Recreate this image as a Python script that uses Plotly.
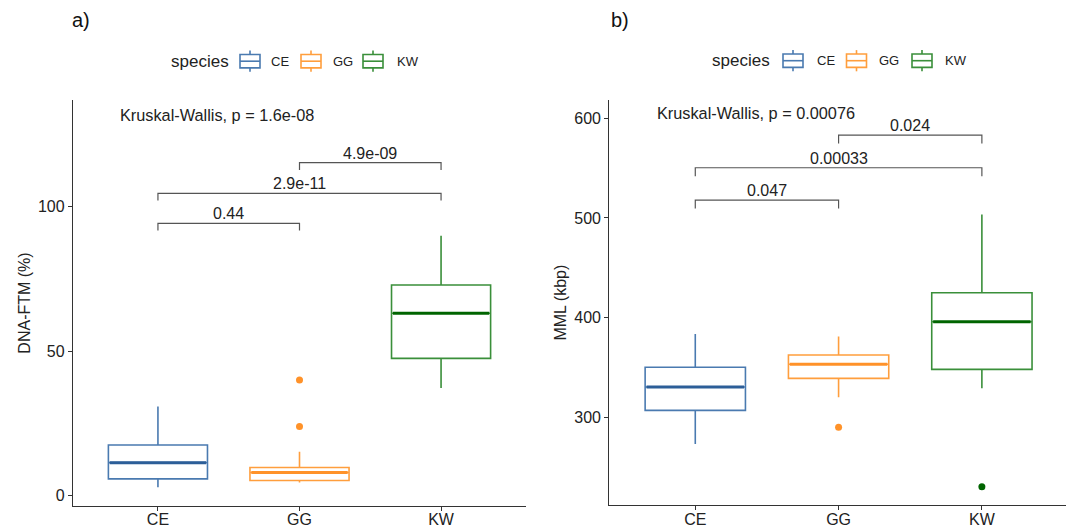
import plotly.graph_objects as go

species = ["CE", "GG", "KW"]
colors = ["#4A7AB0", "#FF9E3D", "#3A8F3A"]
median_colors = ["#2C5E98", "#FF9229", "#006400"]
outlier_colors = ["#2C5E98", "#FF9229", "#006400"]

# Panel a) DNA-FTM (%)
ftm_lower = [2.9, 4.5, 37.2]
ftm_q1 = [5.8, 5.2, 47.5]
ftm_median = [11.4, 8.0, 63.1]
ftm_q3 = [17.5, 9.7, 72.9]
ftm_upper = [30.8, 15.2, 89.9]
ftm_outliers = {"GG": [40.0, 23.9]}
ftm_pairs = [("CE", "GG"), ("CE", "KW"), ("GG", "KW")]
ftm_pvals = ["0.44", "2.9e-11", "4.9e-09"]
ftm_bracket_y = [94.2, 104.6, 115.2]
ftm_kw = "Kruskal-Wallis, p = 1.6e-08"

# Panel b) MML (kbp)
mml_lower = [273.2, 320.1, 329.1]
mml_q1 = [307.0, 339.1, 348.1]
mml_median = [330.4, 353.2, 395.9]
mml_q3 = [350.2, 362.5, 425.0]
mml_upper = [383.6, 381.2, 503.6]
mml_outliers = {"GG": [290.0], "KW": [230.4]}
mml_pairs = [("CE", "GG"), ("CE", "KW"), ("GG", "KW")]
mml_pvals = ["0.047", "0.00033", "0.024"]
mml_bracket_y = [518.0, 550.4, 583.2]
mml_kw = "Kruskal-Wallis, p = 0.00076"

W, H = 1066, 530
FONT = "Liberation Sans, Arial, sans-serif"
BOX_W = 0.7

fig = go.Figure()

panels = [
    dict(xa="x", ya="y", lower=ftm_lower, q1=ftm_q1, med=ftm_median,
         q3=ftm_q3, upper=ftm_upper, out=ftm_outliers, pairs=ftm_pairs, pvals=ftm_pvals,
         by=ftm_bracket_y, tip=2.5, kw=ftm_kw, kwy=131.7, kwx=-0.275,
         leg_title_x=170, leg_y=61.2, key_x=[240, 301, 363], txt_x=[270, 331.5, 396]),
    dict(xa="x2", ya="y2", lower=mml_lower, q1=mml_q1, med=mml_median,
         q3=mml_q3, upper=mml_upper, out=mml_outliers, pairs=mml_pairs, pvals=mml_pvals,
         by=mml_bracket_y, tip=8.4, kw=mml_kw, kwy=604.9, kwx=-0.277,
         leg_title_x=711, leg_y=60.7, key_x=[783, 846.5, 912], txt_x=[815.5, 878, 944]),
]

annotations = []
shapes = []


def px(x):
    return x / W


def py(y):
    return 1 - y / H


for p in panels:
    for i, sp in enumerate(species):
        fig.add_trace(go.Box(
            x=[i], q1=[p["q1"][i]], median=[p["med"][i]], q3=[p["q3"][i]],
            lowerfence=[p["lower"][i]], upperfence=[p["upper"][i]],
            name=sp, width=BOX_W, whiskerwidth=0, fillcolor="white",
            line=dict(color=colors[i], width=1.6), boxpoints=False,
            xaxis=p["xa"], yaxis=p["ya"], showlegend=False,
            hoverinfo="skip",
        ))
        # thicker median line (ggplot fatten)
        fig.add_trace(go.Scatter(
            x=[i - BOX_W / 2 + 0.01, i + BOX_W / 2 - 0.01], y=[p["med"][i], p["med"][i]],
            mode="lines", line=dict(color=median_colors[i], width=3),
            xaxis=p["xa"], yaxis=p["ya"], showlegend=False, hoverinfo="skip",
        ))
        if sp in p["out"]:
            vals = p["out"][sp]
            fig.add_trace(go.Scatter(
                x=[i] * len(vals), y=vals, mode="markers",
                marker=dict(color=outlier_colors[i], size=7),
                xaxis=p["xa"], yaxis=p["ya"], showlegend=False, hoverinfo="skip",
            ))
    for (a, b), pv, yv in zip(p["pairs"], p["pvals"], p["by"]):
        ia, ib = species.index(a), species.index(b)
        fig.add_trace(go.Scatter(
            x=[ia, ia, ib, ib], y=[yv - p["tip"], yv, yv, yv - p["tip"]],
            mode="lines", line=dict(color="#555555", width=1.2),
            xaxis=p["xa"], yaxis=p["ya"], showlegend=False, hoverinfo="skip",
        ))
        annotations.append(dict(
            x=(ia + ib) / 2, y=yv, xref=p["xa"], yref=p["ya"], text=pv,
            showarrow=False, yanchor="bottom", yshift=-1,
            font=dict(size=16, color="#222222", family=FONT),
        ))
    annotations.append(dict(
        x=p["kwx"], y=p["kwy"], xref=p["xa"], yref=p["ya"], text=p["kw"],
        showarrow=False, xanchor="left", yanchor="middle", xshift=-1,
        font=dict(size=16.3, color="#222222", family=FONT),
    ))

    # ggplot-style legend
    cy = p["leg_y"]
    annotations.append(dict(x=px(p["leg_title_x"]), y=py(cy), xref="paper", yref="paper",
                            text="species", showarrow=False, xanchor="left", yanchor="middle",
                            xshift=-1, font=dict(size=17, color="#222222", family=FONT)))
    for i, sp in enumerate(species):
        kx0 = p["key_x"][i]
        kx1 = kx0 + 20
        kxc = (kx0 + kx1) / 2
        lw = 1.6
        shapes.append(dict(type="rect", xref="paper", yref="paper",
                           x0=px(kx0), x1=px(kx1), y0=py(cy + 6.7), y1=py(cy - 6.7),
                           line=dict(color=colors[i], width=lw), fillcolor="white"))
        shapes.append(dict(type="line", xref="paper", yref="paper",
                           x0=px(kx0), x1=px(kx1), y0=py(cy), y1=py(cy),
                           line=dict(color=colors[i], width=lw)))
        shapes.append(dict(type="line", xref="paper", yref="paper",
                           x0=px(kxc), x1=px(kxc), y0=py(cy - 10.6), y1=py(cy - 6.7),
                           line=dict(color=colors[i], width=lw)))
        shapes.append(dict(type="line", xref="paper", yref="paper",
                           x0=px(kxc), x1=px(kxc), y0=py(cy + 6.7), y1=py(cy + 10.6),
                           line=dict(color=colors[i], width=lw)))
        annotations.append(dict(x=px(p["txt_x"][i]), y=py(cy), xref="paper", yref="paper",
                                text=sp, showarrow=False, xanchor="left", yanchor="middle",
                                xshift=-1, font=dict(size=13, color="#222222", family=FONT)))

annotations.append(dict(x=px(70), y=py(20), xref="paper", yref="paper", text="a)",
                        showarrow=False, xanchor="left", yanchor="middle",
                        font=dict(size=20, color="#111111", family=FONT)))
annotations.append(dict(x=px(609), y=py(20), xref="paper", yref="paper", text="b)",
                        showarrow=False, xanchor="left", yanchor="middle",
                        font=dict(size=20, color="#111111", family=FONT)))

axis_common = dict(showline=True, linecolor="#333333", linewidth=1.3, ticks="outside",
                   ticklen=4, tickcolor="#333333", tickwidth=1.2, showgrid=False,
                   zeroline=False, automargin=False,
                   tickfont=dict(size=16, color="#222222", family=FONT))

fig.update_layout(
    width=W, height=H, margin=dict(l=0, r=0, t=0, b=0, autoexpand=False),
    paper_bgcolor="white", plot_bgcolor="white",
    font=dict(family=FONT, color="#222222"),
    showlegend=False,
    xaxis=dict(domain=[73 / W, 526 / W], range=[-0.6, 2.6], tickvals=[0, 1, 2],
               ticktext=species, anchor="y", ticklabelstandoff=-5, **axis_common),
    yaxis=dict(domain=[1 - 506 / H, 1 - 100 / H], range=[-3.6, 136.9], tickvals=[0, 50, 100],
               anchor="x", title=dict(text="DNA-FTM (%)", font=dict(size=16, family=FONT),
                                      standoff=3), **axis_common),
    xaxis2=dict(domain=[609.3 / W, 1.0], range=[-0.6, 2.587], tickvals=[0, 1, 2],
                ticktext=species, anchor="y2", ticklabelstandoff=-5, **axis_common),
    yaxis2=dict(domain=[1 - 505.3 / H, 1 - 100 / H], range=[211.7, 618.4],
                tickvals=[300, 400, 500, 600], anchor="x2",
                title=dict(text="MML (kbp)", font=dict(size=16, family=FONT), standoff=3),
                **axis_common),
    annotations=annotations,
    shapes=shapes,
)

fig.write_html("out.html")
